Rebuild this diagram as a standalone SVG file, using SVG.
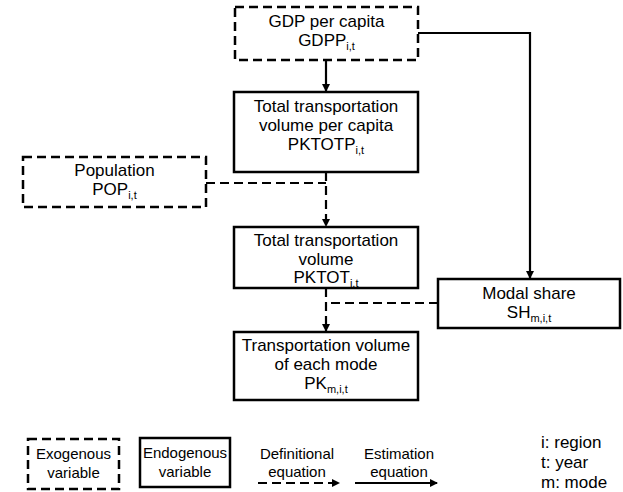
<svg xmlns="http://www.w3.org/2000/svg" width="623" height="492" viewBox="0 0 623 492">
<style>
text{font-family:"Liberation Sans",Arial,sans-serif;font-size:17px;fill:#000;text-anchor:middle}
.sub{font-size:11px}
.lg{font-size:15px}
.box{fill:#fff;stroke:#000;stroke-width:2.5}
.exo{fill:#fff;stroke:#000;stroke-width:2.5;stroke-dasharray:9 5}
.est{fill:none;stroke:#000;stroke-width:2.2}
.def{fill:none;stroke:#000;stroke-width:2.2;stroke-dasharray:9 5}
.lt{text-anchor:start;font-size:17px}
</style>
<defs>
<marker id="ah" markerWidth="8" markerHeight="8" refX="7" refY="4" orient="auto" markerUnits="userSpaceOnUse">
<path d="M0,0 L8,4 L0,8 Z" fill="#000"/>
</marker>
</defs>
<g id="connectors">
<path class="est" d="M326,60 V91" marker-end="url(#ah)"/>
<path class="est" d="M418,33 H530 V278" marker-end="url(#ah)"/>
<path class="def" d="M206,183 H326"/>
<path class="def" d="M326,172 V226" marker-end="url(#ah)"/>
<path class="def" d="M326,288 V331" marker-end="url(#ah)"/>
<path class="def" d="M438,303 H326"/>
</g>
<g id="gdp">
<rect class="exo" x="235" y="7" width="183" height="53"/>
<text x="326.5" y="27">GDP per capita</text>
<text x="326.5" y="46">GDPP<tspan class="sub" dy="4">i,t</tspan></text>
</g>
<g id="pktotp">
<rect class="box" x="234" y="92" width="184" height="80"/>
<text x="326" y="112">Total transportation</text>
<text x="326" y="131">volume per capita</text>
<text x="326" y="150">PKTOTP<tspan class="sub" dy="4">i,t</tspan></text>
</g>
<g id="pop">
<rect class="exo" x="23" y="157" width="183" height="50"/>
<text x="114.5" y="176">Population</text>
<text x="114.5" y="195">POP<tspan class="sub" dy="4">i,t</tspan></text>
</g>
<g id="pktot">
<rect class="box" x="234" y="227" width="184" height="61"/>
<text x="326" y="246">Total transportation</text>
<text x="326" y="265">volume</text>
<text x="326" y="283">PKTOT<tspan class="sub" dy="4">i,t</tspan></text>
</g>
<g id="modal">
<rect class="box" x="438" y="279" width="182" height="49"/>
<text x="529" y="299">Modal share</text>
<text x="529" y="318">SH<tspan class="sub" dy="4">m,i,t</tspan></text>
</g>
<g id="pk">
<rect class="box" x="234" y="332" width="184" height="68"/>
<text x="326" y="351">Transportation volume</text>
<text x="326" y="370">of each mode</text>
<text x="326" y="389">PK<tspan class="sub" dy="4">m,i,t</tspan></text>
</g>
<g id="legend">
<rect class="exo" x="28" y="439" width="91" height="50"/>
<text class="lg" x="73.5" y="459">Exogenous</text>
<text class="lg" x="73.5" y="478">variable</text>
<rect class="box" x="140" y="438" width="90" height="49"/>
<text class="lg" x="185" y="458">Endogenous</text>
<text class="lg" x="185" y="477">variable</text>
<text class="lg" x="297" y="459">Definitional</text>
<text class="lg" x="297" y="477">equation</text>
<path class="def" d="M258,483 H339" marker-end="url(#ah)"/>
<text class="lg" x="399" y="459">Estimation</text>
<text class="lg" x="399" y="477">equation</text>
<path class="est" d="M355,483 H437" marker-end="url(#ah)"/>
<text class="lt" x="541" y="448">i: region</text>
<text class="lt" x="541" y="468">t: year</text>
<text class="lt" x="541" y="488">m: mode</text>
</g>
</svg>
